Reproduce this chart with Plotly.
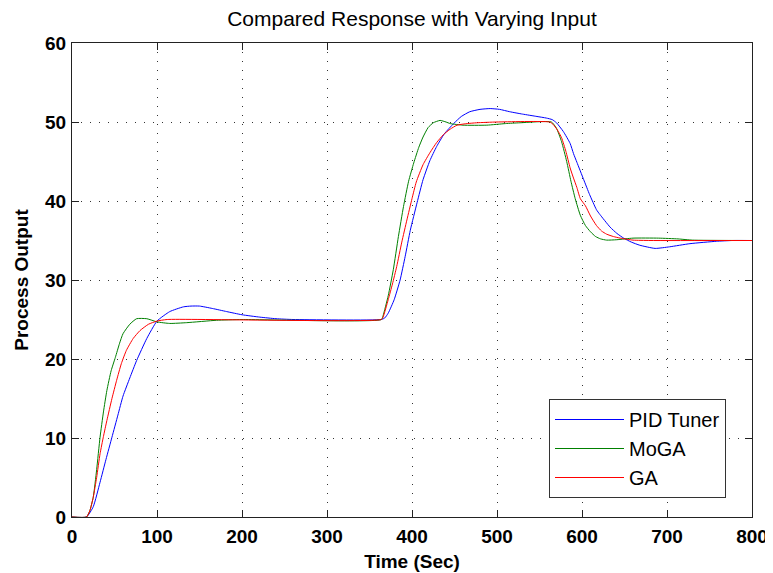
import plotly.graph_objects as go

# ---- data ----
pid_t = [0, 17, 25, 33, 40, 47, 54, 60, 68, 76, 88, 100, 115, 131, 140, 150, 165, 182, 200, 221, 240, 260,
         364, 368, 372, 379, 386, 392, 398, 406, 413, 421, 429, 438, 449, 458, 468, 480, 492, 503, 515, 530,
         547, 558, 565, 570, 578, 586, 590, 594, 602, 609, 617, 621, 633, 641, 649, 658, 668, 686, 703, 727,
         758, 777, 800]
pid_v = [0, 0, 1.3, 4.4, 7.3, 10.1, 12.9, 15.3, 17.6, 19.8, 22.6, 24.8, 26.0, 26.6, 26.7, 26.7, 26.4, 26.0,
         25.6, 25.3, 25.1, 25.0,
         25.0, 25.2, 25.8, 27.5, 30.0, 33.0, 36.3, 39.8, 42.7, 45.1, 46.9, 48.5, 49.8, 50.7, 51.3, 51.6, 51.7,
         51.6, 51.3, 51.0,
         50.7, 50.5, 50.3, 49.9, 48.8, 47.3, 46.0, 44.9, 42.7, 40.8, 38.9, 38.3, 36.7, 35.9, 35.3, 34.8, 34.4,
         34.0, 34.2, 34.6,
         34.9, 35.0, 35.0]

moga_t = [0, 17, 21, 25, 29, 33, 37, 41, 46, 51, 56, 60, 68, 76, 88, 100, 115, 135, 170, 200,
          364, 366, 372, 378, 384, 390, 396, 402, 408, 413, 419, 425, 433, 440, 445, 460, 488, 510, 527,
          564, 570, 576, 582, 587, 592, 598, 604, 610, 616, 622, 629, 641, 660, 690, 713, 730, 800]
moga_v = [0, 0, 0.8, 2.5, 6.0, 10.1, 13.3, 16.0, 18.5, 20.2, 22.0, 23.2, 24.4, 25.1, 25.1, 24.7, 24.5, 24.6,
          24.9, 25.0,
          25.0, 25.5, 28.0, 31.3, 35.5, 39.3, 42.5, 44.8, 46.8, 48.1, 49.3, 49.9, 50.2, 50.0, 49.8, 49.6, 49.6,
          49.8, 49.9,
          50.0, 49.2, 47.5, 45.0, 42.5, 40.3, 38.2, 36.9, 36.1, 35.5, 35.2, 35.05, 35.1, 35.3, 35.3, 35.2, 35.05,
          35.0]

ga_t = [0, 17, 21, 25, 29, 33, 37, 41, 47, 52.5, 58, 64, 72, 80, 90, 100, 112,
        364, 366, 372, 377, 382, 388, 394, 400, 405, 413, 421, 429, 437, 445, 453, 465, 476, 500,
        562, 566, 571, 576, 581, 586, 590, 594, 598, 604, 610, 617, 623, 629, 637, 645, 660, 680, 800]
ga_v = [0, 0, 0.8, 2.5, 5.0, 8.0, 10.2, 12.2, 15.0, 17.3, 19.4, 21.1, 22.6, 23.6, 24.4, 24.8, 25.0,
        25.0, 25.3, 27.5, 29.5, 31.7, 34.8, 37.6, 40.3, 42.4, 44.6, 46.1, 47.4, 48.4, 49.1, 49.6, 49.8, 49.9,
        50.0,
        50.0, 49.7, 49.0, 48.0, 46.3, 44.2, 42.9, 41.7, 40.3, 39.4, 38.1, 36.9, 36.2, 35.8, 35.5, 35.3, 35.05,
        35.0, 35.0]

series_names = ["PID Tuner", "MoGA", "GA"]
series_colors = ["#0000ff", "#008000", "#ff0000"]

x_ticks = [0, 100, 200, 300, 400, 500, 600, 700, 800]
y_ticks = [0, 10, 20, 30, 40, 50, 60]

fig = go.Figure()
for (t, v), name, col in zip([(pid_t, pid_v), (moga_t, moga_v), (ga_t, ga_v)], series_names, series_colors):
    fig.add_trace(go.Scatter(x=t, y=v, mode="lines", name=name,
                             line=dict(color=col, width=1, shape="spline", smoothing=0.5)))

axis_common = dict(
    showline=True, linecolor="#222222", linewidth=1, mirror="ticks",
    ticks="inside", ticklen=7, tickcolor="#222222", tickwidth=1,
    showgrid=True, gridcolor="#333333", gridwidth=1, griddash="1px,8px",
    zeroline=False, automargin=False,
    tickfont=dict(family="Liberation Sans, Arial", size=19, color="black", weight="bold"),
)

# the page body adds an 8px offset, so the figure is 8px smaller and margins shifted
fig.update_layout(
    width=765, height=565,
    margin=dict(l=64, r=21, t=35, b=56, autoexpand=False),
    paper_bgcolor="white", plot_bgcolor="white",
    title=dict(text="Compared Response with Varying Input", x=0.5, xref="paper", xanchor="center",
               y=1 - 11 / 565, yref="container", yanchor="middle",
               font=dict(family="Liberation Sans, Arial", size=21, color="black")),
    xaxis=dict(range=[0, 800], tickvals=x_ticks, ticklabelstandoff=2,
               title=dict(text="Time (Sec)", standoff=8,
                          font=dict(family="Liberation Sans, Arial", size=19, color="black", weight="bold")),
               **axis_common),
    yaxis=dict(range=[0, 60], tickvals=y_ticks, ticklabelstandoff=1,
               title=dict(text="Process Output", standoff=11,
                          font=dict(family="Liberation Sans, Arial", size=19, color="black", weight="bold")),
               **axis_common),
    legend=dict(x=(549 - 72) / 680, y=(517 - 399) / 474, xanchor="left", yanchor="top",
                bgcolor="white", bordercolor="#333333", borderwidth=1,
                font=dict(family="Liberation Sans, Arial", size=20, color="black"),
                itemwidth=69, tracegroupgap=4),
    showlegend=True,
)

fig.write_html("out.html")
